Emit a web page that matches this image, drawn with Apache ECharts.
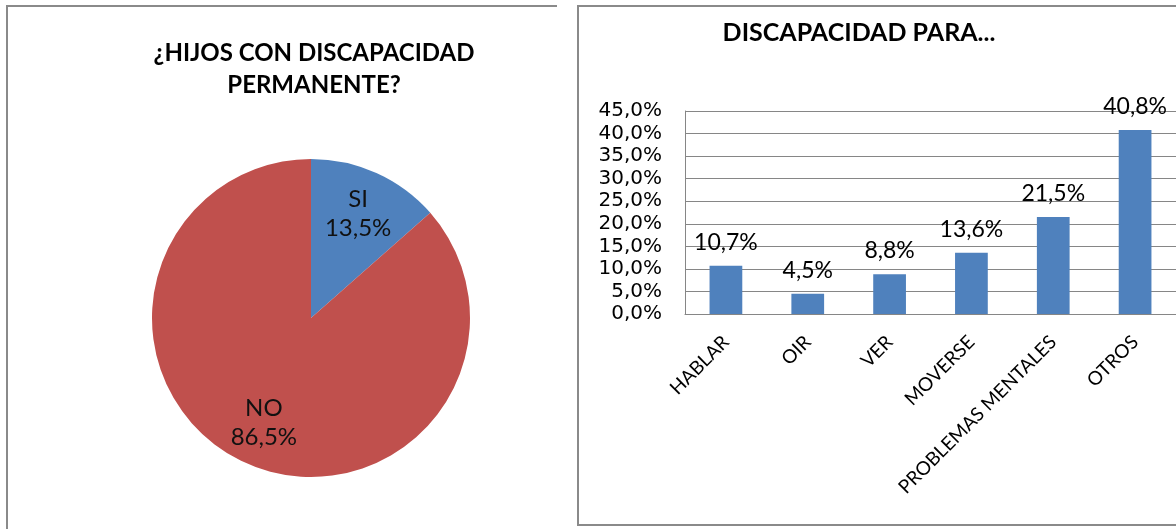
<!DOCTYPE html>
<html>
<head>
<meta charset="utf-8">
<script src="https://cdn.jsdelivr.net/npm/echarts@6/dist/echarts.min.js"></script>
<style>
  html, body { margin: 0; padding: 0; background: #fff; }
  #main { width: 1176px; height: 529px; }
</style>
</head>
<body>
<div id="main"></div>
<script>
var dom = document.getElementById('main');
var myChart = echarts.init(dom);

// pie: hijos con discapacidad
var pieNames = ['SI', 'NO'];
var pieValues = [13.5, 86.5];
var pieColors = ['#4F81BD', '#C0504D'];

// bars: discapacidad para...
var categories = ['HABLAR', 'OIR', 'VER', 'MOVERSE', 'PROBLEMAS MENTALES', 'OTROS'];
var barValues = [10.7, 4.5, 8.8, 13.6, 21.5, 40.8];
var yMin = 0, yMax = 45, yStep = 5;

var font = 'Lato';
var wideFont = 'DejaVu Sans';
function pct(v) {
  return v.toFixed(1).replace('.', ',') + '%';
}

var pieData = pieNames.map(function (n, i) {
  return { name: n, value: pieValues[i], itemStyle: { color: pieColors[i] } };
});

option = {
  animation: false,
  textStyle: { fontFamily: font },
  title: [{
    text: '¿HIJOS CON DISCAPACIDAD\nPERMANENTE?',
    left: 309,
    top: 32,
    textAlign: 'center',
    textStyle: { fontFamily: font, fontSize: 24, fontWeight: 'bold', color: '#000', lineHeight: 32 }
  }, {
    text: 'DISCAPACIDAD PARA...',
    left: 854,
    top: 15,
    textAlign: 'center',
    textStyle: { fontFamily: font, fontSize: 25, fontWeight: 'bold', color: '#000' }
  }],
  graphic: [
    // chart frames
    { type: 'polyline', shape: { points: [[7, 529], [7, 6], [557, 6]] }, style: { stroke: '#8a8a8a', lineWidth: 2, fill: null } },
    { type: 'polyline', shape: { points: [[1176, 6], [578, 6], [578, 525], [1176, 525]] }, style: { stroke: '#8a8a8a', lineWidth: 2, fill: null } }
  ],
  grid: {
    left: 685,
    top: 111,
    right: -1,
    bottom: 215,
    containLabel: false
  },
  xAxis: {
    type: 'category',
    data: categories,
    axisLine: { lineStyle: { color: '#868686', width: 1 } },
    axisTick: { show: false },
    axisLabel: {
      interval: 0,
      rotate: 45,
      margin: 25,
      fontFamily: font,
      fontSize: 19,
      color: '#000'
    }
  },
  yAxis: {
    type: 'value',
    min: yMin,
    max: yMax,
    interval: yStep,
    axisLine: { show: true, lineStyle: { color: '#868686', width: 1 } },
    axisTick: { show: false },
    splitLine: { lineStyle: { color: '#868686', width: 1 } },
    axisLabel: {
      margin: 23,
      fontFamily: wideFont,
      fontSize: 20,
      color: '#000',
      formatter: function (v) { return pct(v); }
    }
  },
  series: [{
    type: 'pie',
    center: [311, 318],
    radius: 159,
    startAngle: 90,
    clockwise: true,
    silent: true,
    label: { show: false },
    labelLine: { show: false },
    data: pieData
  }, {
    // label carrier: puts labels at ~70% of the radius like the original
    type: 'pie',
    center: [311, 318],
    radius: [64, 159],
    startAngle: 90,
    clockwise: true,
    silent: true,
    itemStyle: { color: 'rgba(0,0,0,0)' },
    label: {
      show: true,
      position: 'inside',
      fontFamily: font,
      fontSize: 24,
      lineHeight: 29,
      color: '#111',
      formatter: function (p) { return p.name + '\n' + pct(p.value); }
    },
    labelLine: { show: false },
    data: pieNames.map(function (n, i) { return { name: n, value: pieValues[i] }; })
  }, {
    type: 'bar',
    data: barValues,
    barWidth: '40%',
    itemStyle: { color: '#4F81BD' },
    label: {
      show: true,
      position: 'top',
      distance: 12,
      fontFamily: font,
      fontSize: 23,
      color: '#000',
      formatter: function (p) { return pct(p.value); }
    }
  }]
};

if (option && typeof option === 'object') {
  myChart.setOption(option, true);
}
</script>
</body>
</html>
